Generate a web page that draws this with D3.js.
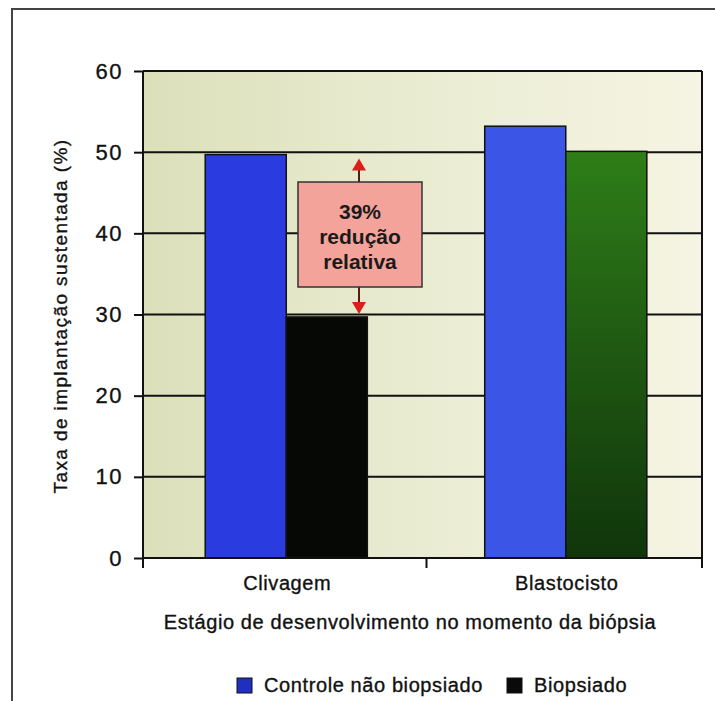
<!DOCTYPE html>
<html>
<head>
  <meta charset="utf-8">
  <style>
    body {
      margin: 0;
      background: #fff;
    }

    svg {
      font-family: "Liberation Sans", Arial, sans-serif;
    }

    .grid-line {
      stroke: #111;
      stroke-width: 2;
    }

    .bar {
      stroke: #111;
      stroke-width: 1.5;
    }

    /* scanned print looks a little heavier than plain Liberation */
    .ink {
      fill: #111;
      stroke: #111;
      stroke-width: 0.35px;
    }
  </style>
</head>
<body>
  <script src="https://cdn.jsdelivr.net/npm/d3@7"></script>
  <script>
    // values
    var categories = ["Clivagem", "Blastocisto"];
    var series = ["Controle não biopsiado", "Biopsiado"];
    var controlValues = [49.7, 53.2];
    var biopsyValues = [29.7, 50.1];
    var yTicks = [0, 10, 20, 30, 40, 50, 60];
    var noteLines = ["39%", "redução", "relativa"];

    var width = 715;
    var height = 701;
    var plotLeft = 143, plotRight = 702, plotTop = 71, plotBottom = 558;

    var svg = d3.select("body").append("svg")
      .attr("width", width)
      .attr("height", height);

    var defs = svg.append("defs");
    var bg = defs.append("linearGradient").attr("id", "bg")
      .attr("x1", "0").attr("x2", "1").attr("y1", "0").attr("y2", "0");
    bg.append("stop").attr("offset", "0").attr("stop-color", "#dbe0ba");
    bg.append("stop").attr("offset", "0.5").attr("stop-color", "#eaecd2");
    bg.append("stop").attr("offset", "1").attr("stop-color", "#f5f4e3");
    var greenFill = defs.append("linearGradient").attr("id", "greenFill")
      .attr("x1", "0").attr("x2", "0").attr("y1", "0").attr("y2", "1");
    greenFill.append("stop").attr("offset", "0").attr("stop-color", "#2e7e18");
    greenFill.append("stop").attr("offset", "0.5").attr("stop-color", "#1f5812");
    greenFill.append("stop").attr("offset", "1").attr("stop-color", "#10350b");

    // page frame (scan border, runs off right and bottom)
    svg.append("path")
      .attr("d", "M12,701 L12,9 L715,9")
      .attr("fill", "none")
      .attr("stroke", "#444")
      .attr("stroke-width", 2);

    var y = d3.scaleLinear().domain([0, 60]).range([plotBottom, plotTop]);
    var x0 = d3.scaleBand().domain(categories).range([plotLeft, plotRight])
      .paddingInner(0.42).paddingOuter(0.21).align(0.53);
    var x1 = d3.scaleBand().domain(series).range([0, x0.bandwidth()]);

    svg.append("rect")
      .attr("x", plotLeft).attr("y", plotTop)
      .attr("width", plotRight - plotLeft).attr("height", plotBottom - plotTop)
      .attr("fill", "url(#bg)");

    svg.append("g").selectAll("line")
      .data(yTicks.filter(d => d > 0))
      .join("line")
      .attr("class", "grid-line")
      .attr("x1", plotLeft).attr("x2", plotRight)
      .attr("y1", d => y(d)).attr("y2", d => y(d));

    svg.append("line")
      .attr("class", "grid-line")
      .attr("x1", plotRight).attr("x2", plotRight)
      .attr("y1", plotTop).attr("y2", plotBottom + 10);

    var rows = categories.map((c, i) => ({
      cat: c,
      vals: [
        { s: series[0], v: controlValues[i], i: i },
        { s: series[1], v: biopsyValues[i], i: i }
      ]
    }));

    function barFill(d) {
      if (d.s === series[0]) return d.i === 0 ? "#2a3be0" : "#3b56e6";
      return d.i === 0 ? "#050805" : "url(#greenFill)";
    }

    svg.append("g").selectAll("g")
      .data(rows)
      .join("g")
      .attr("transform", d => "translate(" + x0(d.cat) + ",0)")
      .selectAll("rect")
      .data(d => d.vals)
      .join("rect")
      .attr("class", "bar")
      .attr("x", d => x1(d.s))
      .attr("width", x1.bandwidth())
      .attr("y", d => y(d.v))
      .attr("height", d => y(0) - y(d.v))
      .attr("fill", barFill);

    // y axis
    var yAxis = svg.append("g")
      .attr("transform", "translate(" + plotLeft + ",0)")
      .call(d3.axisLeft(y).tickValues(yTicks).tickSize(9).tickPadding(11));
    yAxis.select(".domain").remove();
    yAxis.append("line")
      .attr("x1", 0).attr("x2", 0)
      .attr("y1", plotTop).attr("y2", plotBottom + 10)
      .attr("stroke", "#111").attr("stroke-width", 2);
    yAxis.selectAll(".tick line").attr("stroke", "#111").attr("stroke-width", 2);
    yAxis.selectAll(".tick text")
      .attr("class", "ink")
      .style("font-size", "22px")
      .style("letter-spacing", "1.5px")
      .style("font-family", "'Liberation Sans', Arial, sans-serif");

    // x axis
    svg.append("line")
      .attr("x1", plotLeft).attr("x2", plotRight)
      .attr("y1", plotBottom).attr("y2", plotBottom)
      .attr("stroke", "#111").attr("stroke-width", 2);
    svg.append("line")
      .attr("x1", (plotLeft + plotRight) / 2 + 4).attr("x2", (plotLeft + plotRight) / 2 + 4)
      .attr("y1", plotBottom).attr("y2", plotBottom + 10)
      .attr("stroke", "#111").attr("stroke-width", 2);

    svg.append("g").selectAll("text")
      .data(categories)
      .join("text")
      .attr("class", "ink")
      .attr("x", d => x0(d) + x0.bandwidth() / 2 + 1)
      .attr("y", 590)
      .attr("text-anchor", "middle")
      .style("font-size", "20px")
      .style("letter-spacing", "0.6px")
      .text(d => d);

    svg.append("text")
      .attr("class", "ink")
      .attr("x", 410)
      .attr("y", 629)
      .attr("text-anchor", "middle")
      .style("font-size", "20px")
      .style("letter-spacing", "0.6px")
      .text("Estágio de desenvolvimento no momento da biópsia");

    svg.append("text")
      .attr("class", "ink")
      .attr("transform", "translate(67,316) rotate(-90)")
      .attr("text-anchor", "middle")
      .style("font-size", "19px")
      .style("letter-spacing", "1.4px")
      .text("Taxa de implantação sustentada (%)");

    // annotation box with arrows
    var boxX = 298, boxY = 182, boxW = 124, boxH = 105;
    var arrowX = 359;
    var red = "#dc1f1a";
    function arrow(yFrom, yTip) {
      var dir = yTip < yFrom ? -1 : 1;
      svg.append("line")
        .attr("x1", arrowX).attr("x2", arrowX)
        .attr("y1", yFrom).attr("y2", yTip - dir * 10)
        .attr("stroke", "#5a1a18").attr("stroke-width", 2);
      svg.append("path")
        .attr("d", "M" + (arrowX - 7) + "," + (yTip - dir * 12) +
          " L" + (arrowX + 7) + "," + (yTip - dir * 12) +
          " L" + arrowX + "," + yTip + "Z")
        .attr("fill", red);
    }
    arrow(boxY, y(controlValues[0]) + 4);
    arrow(boxY + boxH, y(biopsyValues[0]) - 3);

    svg.append("rect")
      .attr("x", boxX).attr("y", boxY)
      .attr("width", boxW).attr("height", boxH)
      .attr("fill", "#f4a39b")
      .attr("stroke", "#333")
      .attr("stroke-width", 1.5);

    svg.append("g").selectAll("text")
      .data(noteLines)
      .join("text")
      .attr("x", boxX + boxW / 2)
      .attr("y", (d, i) => 219 + i * 25)
      .attr("text-anchor", "middle")
      .attr("fill", "#1a1a1a")
      .style("font-size", "21px")
      .style("font-weight", "bold")
      .text(d => d);

    // legend
    var legendX = [237, 507];
    var legendFill = ["#1f2fc0", "#0a0a0a"];
    var legend = svg.append("g").selectAll("g")
      .data(series)
      .join("g")
      .attr("transform", (d, i) => "translate(" + legendX[i] + ",678)");
    legend.append("rect")
      .attr("width", 15).attr("height", 15)
      .attr("fill", (d, i) => legendFill[i])
      .attr("stroke", "#111").attr("stroke-width", 1);
    legend.append("text")
      .attr("class", "ink")
      .attr("x", 27).attr("y", 14)
      .style("font-size", "20px")
      .style("letter-spacing", "0.6px")
      .text(d => d);
  </script>
</body>
</html>
